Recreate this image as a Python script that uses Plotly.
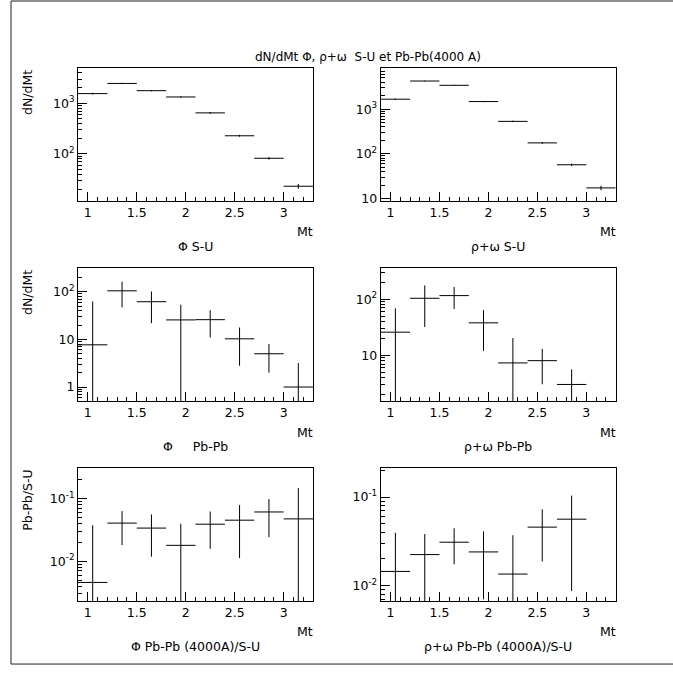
import plotly.graph_objects as go
import math

# ---------------- data ----------------
mt_centers = [1.05, 1.35, 1.65, 1.95, 2.25, 2.55, 2.85, 3.15]
mt_half_width = [0.15] * 8

phi_su = [1550, 2460, 1770, 1330, 645, 228, 82, 23]
phi_su_err = [60, 70, 50, 40, 25, 10, 5, 2.5]

rho_su = [1670, 4260, 3420, 1480, 533, 176, 57, 17.3]
rho_su_err = [60, 90, 70, 45, 20, 8, 4, 2]

phi_pbpb = [7.7, 105, 62, 25.7, 26, 10.3, 5.0, 1.0]
phi_pbpb_err = [55, 58, 40, 28, 15, 7.5, 3.0, 2.2]

rho_pbpb = [25.9, 104, 116, 38, 7.35, 8.06, 3.04, None]
rho_pbpb_err = [43, 72, 49, 26, 13, 5, 2.6, None]

ratio_phi = [0.00457, 0.0406, 0.0338, 0.0179, 0.039, 0.0452, 0.0612, 0.0474]
ratio_phi_err = [0.033, 0.0225, 0.022, 0.0217, 0.0232, 0.034, 0.037, 0.1]

ratio_rho = [0.01446, 0.0224, 0.0309, 0.0240, 0.0135, 0.0457, 0.0562, None]
ratio_rho_err = [0.025, 0.0158, 0.0135, 0.017, 0.0235, 0.027, 0.0475, None]

x_tickvals = [1, 1.5, 2, 2.5, 3]
x_ticktext = ["1", "1.5", "2", "2.5", "3"]

title_text = "dN/dMt \u03a6, \u03c1+\u03c9  S-U et Pb-Pb(4000 A)"
subtitles = ["\u03a6 S-U", "\u03c1+\u03c9 S-U",
             "\u03a6     Pb-Pb", "\u03c1+\u03c9 Pb-Pb",
             "\u03a6 Pb-Pb (4000A)/S-U", "\u03c1+\u03c9 Pb-Pb (4000A)/S-U"]
y_titles = ["dN/dMt", None, "dN/dMt", None, "Pb-Pb/S-U", None]
x_title = "Mt"

y_ticks = [
    ([100, 1000], ["10<sup>2</sup>", "10<sup>3</sup>"]),
    ([10, 100, 1000], ["10", "10<sup>2</sup>", "10<sup>3</sup>"]),
    ([1, 10, 100], ["1", "10", "10<sup>2</sup>"]),
    ([10, 100], ["10", "10<sup>2</sup>"]),
    ([0.01, 0.1], ["10<sup>-2</sup>", "10<sup>-1</sup>"]),
    ([0.01, 0.1], ["10<sup>-2</sup>", "10<sup>-1</sup>"]),
]
y_ranges = [[1.08, 3.686], [0.956, 3.91], [-0.3, 2.49], [0.183, 2.547],
            [-2.64, -0.514], [-2.176, -0.675]]

series = [(phi_su, phi_su_err), (rho_su, rho_su_err),
          (phi_pbpb, phi_pbpb_err), (rho_pbpb, rho_pbpb_err),
          (ratio_phi, ratio_phi_err), (ratio_rho, ratio_rho_err)]

# ---------------- layout geometry ----------------
W, H = 673, 675
def px(x):
    return x / W
def py(y):
    return 1 - y / H

cols = [(78, 313), (380.7, 615.7)]
rows = [(69, 202), (270.5, 404.3), (471.7, 605.7)]

FONT = "DejaVu Sans, Liberation Sans, sans-serif"
FS = 12.5

fig = go.Figure()
layout = dict(width=W, height=H, margin=dict(l=0, r=0, t=0, b=0),
              paper_bgcolor="white", plot_bgcolor="white", showlegend=False,
              font=dict(family=FONT, size=FS, color="black"))
annotations = []

def log_minor(r):
    vals = []
    for d in range(math.floor(r[0]) - 1, math.ceil(r[1]) + 1):
        for k in range(2, 10):
            vals.append(k * 10 ** d)
    return vals

for i in range(6):
    r, c = divmod(i, 2)
    n = i + 1
    xa = "x" if n == 1 else f"x{n}"
    ya = "y" if n == 1 else f"y{n}"
    x0, x1 = cols[c]
    y0, y1 = rows[r]
    vals, errs = series[i]
    xs = [mt_centers[k] for k in range(8) if vals[k] is not None]
    ys = [vals[k] for k in range(8) if vals[k] is not None]
    es = [errs[k] for k in range(8) if vals[k] is not None]
    hw = [mt_half_width[k] for k in range(8) if vals[k] is not None]
    fig.add_trace(go.Scatter(
        x=xs, y=ys, mode="markers", xaxis=xa, yaxis=ya,
        marker=dict(size=1, color="rgba(0,0,0,0)"),
        error_x=dict(type="data", array=hw, symmetric=True, width=0,
                     thickness=1, color="black"),
        error_y=dict(type="data", array=es, symmetric=True, width=0,
                     thickness=1, color="black"),
        hoverinfo="skip"))
    tv, tt = y_ticks[i]
    layout["xaxis" + ("" if n == 1 else str(n))] = dict(
        domain=[px(x0), px(x1)], anchor=ya, range=[0.9, 3.3],
        showline=True, linecolor="black", linewidth=1, mirror=True,
        showgrid=False, zeroline=False,
        tickmode="array", tickvals=x_tickvals, ticktext=x_ticktext,
        ticks="inside", ticklen=9, tickwidth=1, tickcolor="black",
        minor=dict(tickmode="linear", tick0=0.9, dtick=0.1, ticks="inside",
                   ticklen=4, tickwidth=1, tickcolor="black", showgrid=False),
        tickfont=dict(family=FONT, size=FS, color="black"))
    layout["yaxis" + ("" if n == 1 else str(n))] = dict(
        domain=[py(y1), py(y0)], anchor=xa, type="log", range=y_ranges[i],
        showline=True, linecolor="black", linewidth=1, mirror=True,
        showgrid=False, zeroline=False,
        tickmode="array", tickvals=tv, ticktext=tt,
        ticks="inside", ticklen=9, tickwidth=1, tickcolor="black",
        minor=dict(tickmode="array", tickvals=log_minor(y_ranges[i]),
                   ticks="inside", ticklen=4, tickwidth=1, tickcolor="black",
                   showgrid=False),
        tickfont=dict(family=FONT, size=FS, color="black"))
    # Mt label
    annotations.append(dict(xref="paper", yref="paper", x=px(x1 + 2), y=py(y1 + 31),
                            text=x_title, showarrow=False, xanchor="right",
                            yanchor="middle", font=dict(family=FONT, size=FS)))
    # subtitle
    annotations.append(dict(xref="paper", yref="paper", x=px((x0 + x1) / 2),
                            y=py(y1 + 46), text=subtitles[i], showarrow=False,
                            xanchor="center", yanchor="middle",
                            font=dict(family=FONT, size=FS)))
    if y_titles[i]:
        annotations.append(dict(xref="paper", yref="paper", x=px(28), y=py(y0),
                                text=y_titles[i], showarrow=False, textangle=-90,
                                xanchor="center", yanchor="top",
                                font=dict(family=FONT, size=FS)))

annotations.append(dict(xref="paper", yref="paper", x=px(368), y=py(57),
                        text=title_text, showarrow=False, xanchor="center",
                        yanchor="middle", font=dict(family=FONT, size=12)))

layout["annotations"] = annotations
layout["shapes"] = [dict(type="rect", xref="paper", yref="paper",
                         x0=px(11), x1=1.02, y0=py(669), y1=py(1),
                         line=dict(color="#222", width=1))]
fig.update_layout(**layout)
fig.write_html("out.html", config={"displayModeBar": False},
               post_script="document.body.style.margin='0';document.body.style.padding='0';document.body.style.overflow='hidden';")
